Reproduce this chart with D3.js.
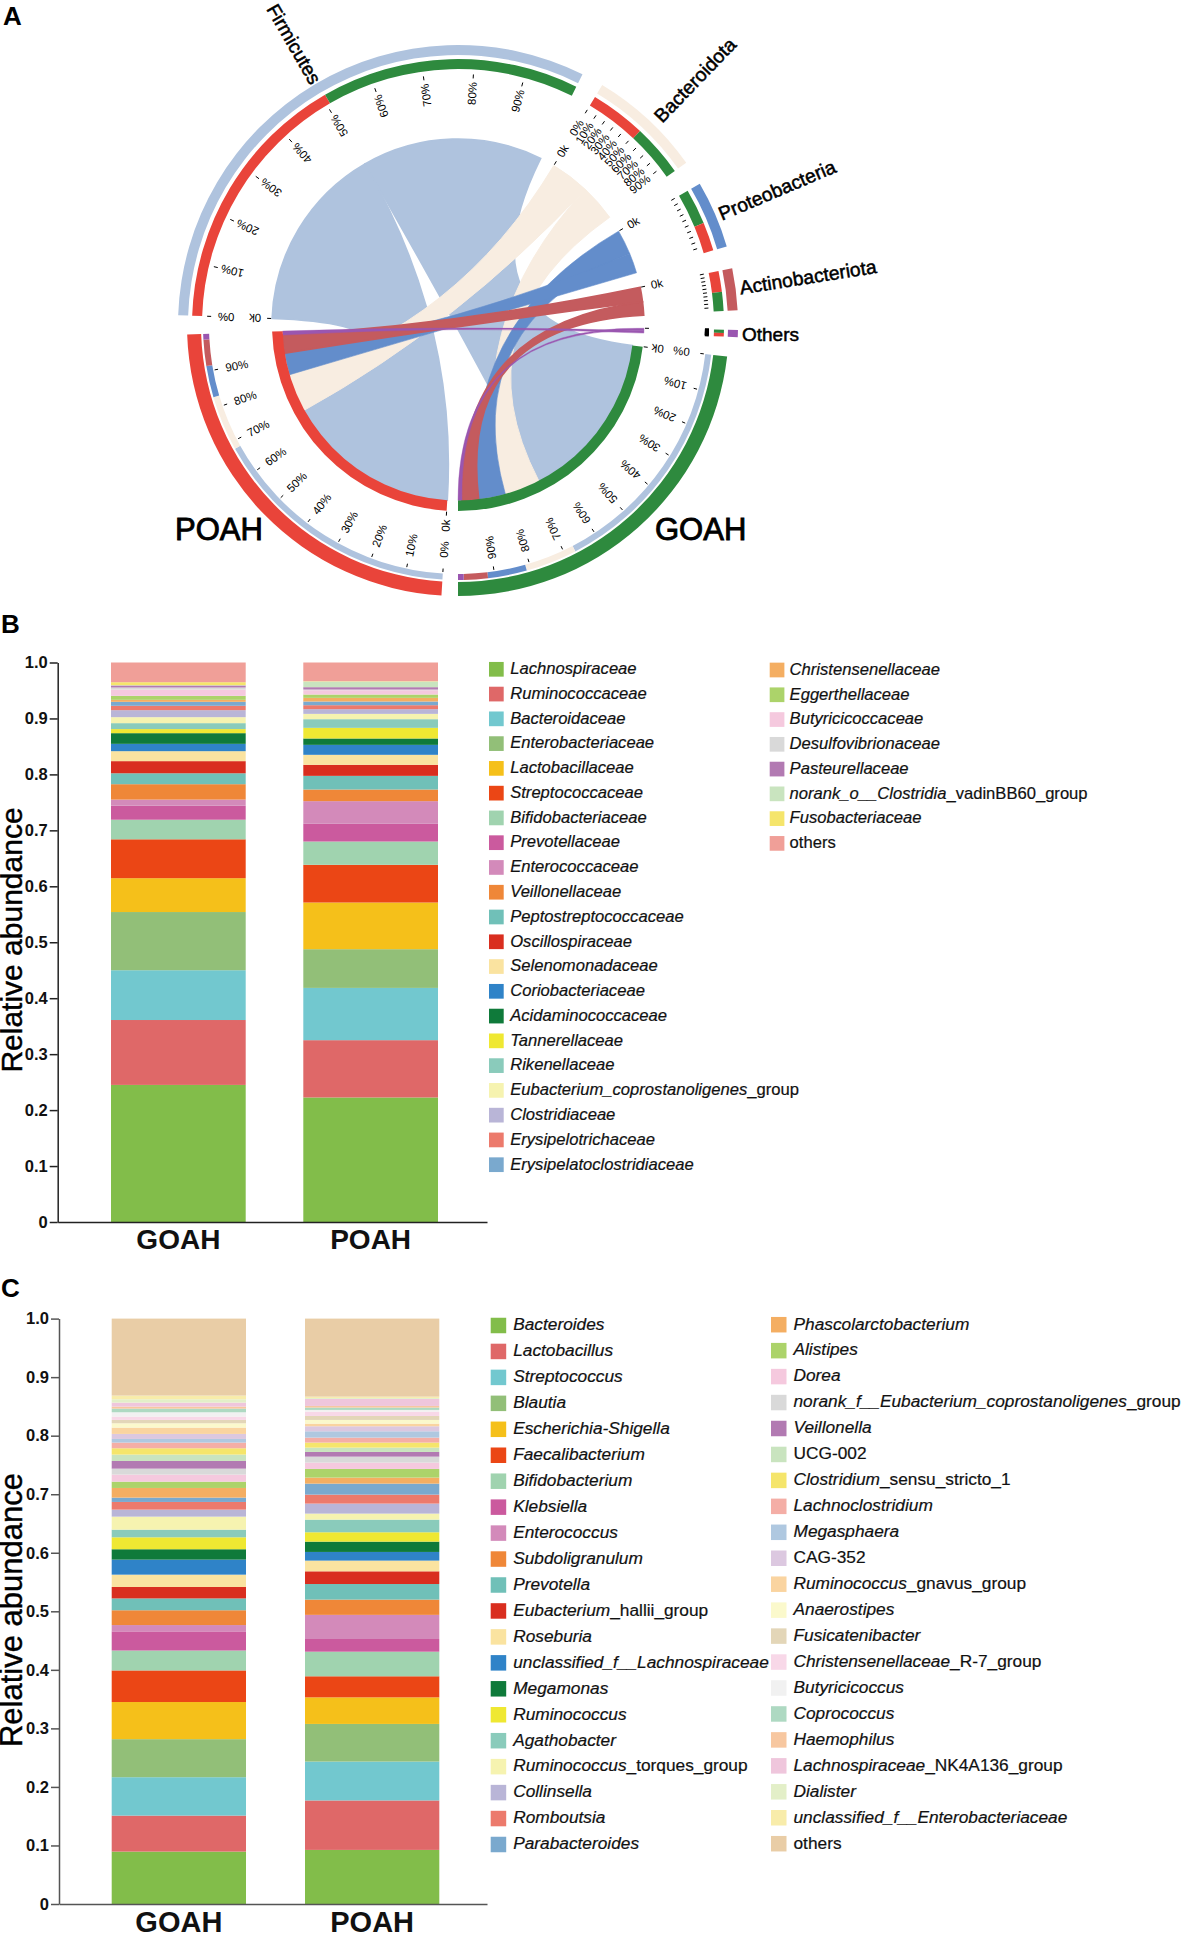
<!DOCTYPE html>
<html><head><meta charset="utf-8">
<script src="https://cdn.jsdelivr.net/npm/d3@7"></script>
<style>
html,body{margin:0;padding:0;background:#fff;overflow:hidden}
svg{display:block;font-family:"Liberation Sans",Arial,sans-serif}
</style></head><body><svg id="c" width="1181" height="1933" viewBox="0 0 1181 1933"></svg>
<script>
// ---------- Panel A data ----------
const phyla = ["Firmicutes","Bacteroidota","Proteobacteria","Actinobacteriota","Others"];
const phylaColors = ["#afc3de","#f8ede1","#638dcb","#c45b5e","#9a56b0"];
const goahFlow = [56.1,11.8,8.9,5.5,1.3];
const poahFlow = [57.7,12.6,7.2,6.0,1.3];
const phylaStart = [272,31,59.7,78.3,91];
const phylaEnd = [386.4,54.6,73.7,87,92.5];
const poahFirst = [true,true,false,true,false];
const percentTicks = [0,10,20,30,40,50,60,70,80,90];
const percentLabelled = [true,true,false,false,false];
// ---------- Panel B data ----------
const familyLabels = ["Lachnospiraceae","Ruminococcaceae","Bacteroidaceae","Enterobacteriaceae","Lactobacillaceae","Streptococcaceae","Bifidobacteriaceae","Prevotellaceae","Enterococcaceae","Veillonellaceae","Peptostreptococcaceae","Oscillospiraceae","Selenomonadaceae","Coriobacteriaceae","Acidaminococcaceae","Tannerellaceae","Rikenellaceae","Eubacterium_coprostanoligenes|_group","Clostridiaceae","Erysipelotrichaceae","Erysipelatoclostridiaceae","Christensenellaceae","Eggerthellaceae","Butyricicoccaceae","Desulfovibrionaceae","Pasteurellaceae","norank_o__Clostridia|_vadinBB60_group","Fusobacteriaceae","|others"];
const familyGOAH = [.245,.116,.089,.104,.0605,.0695,.035,.025,.011,.0275,.0195,.0217,.0178,.0131,.0191,.0073,.0106,.0107,.0125,.0078,.0071,.0036,.0071,.0113,.0036,.0036,.0006,.0053,.0352];
const familyPOAH = [.2226,.1024,.0934,.0692,.0834,.0674,.0416,.0317,.0405,.0208,.0244,.0197,.0179,.0178,.0114,.019,.0155,.0095,.0084,.0071,.0066,.0065,.006,.0077,.0012,.0042,.0101,.0006,.0334];
const familyColors = ["#82bd4a","#df6868","#72c8cf","#92bf78","#f5c01a","#eb4615","#a0d3af","#cb5a9e","#d38aba","#ef8738","#70c0b8","#d92e1f","#fae3a0","#2f83c8","#0f7a3a","#efe832","#8acbbb","#f6f3b0","#b9b5d7","#ec7a6c","#7aa9ce","#f4ae62","#acd36a","#f5c9de","#d9d9d9","#b27ab2","#c9e4bf","#f5e56b","#f09f98"];
// ---------- Panel C data ----------
const genusLabels = ["Bacteroides","Lactobacillus","Streptococcus","Blautia","Escherichia-Shigella","Faecalibacterium","Bifidobacterium","Klebsiella","Enterococcus","Subdoligranulum","Prevotella","Eubacterium|_hallii_group","Roseburia","unclassified_f__Lachnospiraceae","Megamonas","Ruminococcus","Agathobacter","Ruminococcus|_torques_group","Collinsella","Romboutsia","Parabacteroides","Phascolarctobacterium","Alistipes","Dorea","norank_f__Eubacterium_coprostanoligenes|_group","Veillonella","|UCG-002","Clostridium|_sensu_stricto_1","Lachnoclostridium","Megasphaera","|CAG-352","Ruminococcus|_gnavus_group","Anaerostipes","Fusicatenibacter","Christensenellaceae|_R-7_group","Butyricicoccus","Coprococcus","Haemophilus","Lachnospiraceae|_NK4A136_group","Dialister","unclassified_f__Enterobacteriaceae","|others"];
const genusGOAH = [.0895,.0615,.0656,.065,.0634,.054,.034,.0327,.0108,.0253,.0202,.0195,.0211,.0257,.0177,.0204,.0131,.0222,.012,.0131,.0074,.0165,.0108,.012,.0102,.0131,.0109,.0108,.0097,.0062,.0086,.0108,.0074,.0057,.0057,.0074,.0062,.0035,.0068,.0057,.0063,.1315];
const genusPOAH = [.0924,.0845,.0664,.0643,.0454,.036,.042,.0217,.0412,.0261,.0266,.0217,.0183,.0148,.0176,.016,.0216,.0103,.0171,.0153,.0188,.0103,.0148,.0108,.0102,.008,.0074,.0086,.0085,.0108,.0086,.0045,.0063,.0068,.0074,.0029,.004,.0028,.012,.0017,.0022,.1333];
const genusColors = ["#82bd4a","#df6868","#72c8cf","#92bf78","#f5c01a","#eb4615","#a0d3af","#cb5a9e","#d38aba","#ef8738","#70c0b8","#d92e1f","#fae3a0","#2f83c8","#0f7a3a","#efe832","#8acbbb","#f6f3b0","#b9b5d7","#ec7a6c","#7aa9ce","#f4ae62","#acd36a","#f5c9de","#d9d9d9","#b27ab2","#c9e4bf","#f5e56b","#f4aea6","#afc8e0","#dcc8e0","#fad4a0","#fbf9cc","#e3d6b8","#f8d8e8","#f1f1f1","#aed9c2","#f7c7a0","#efc6dc","#e3efc8","#f8ecaa","#e9cda6"];
const groups = ["GOAH","POAH"];
const yTicks = [0,.1,.2,.3,.4,.5,.6,.7,.8,.9,1];

const svg = d3.select("#c");
const rad = d => d*Math.PI/180;

// panel letters
[["A",3,25],["B",1,633],["C",1,1297]].forEach(([t,x,y])=>svg.append("text").attr("x",x).attr("y",y).attr("font-size",26).attr("font-weight","bold").text(t));

// ---------- Panel A ----------
const CX=458, CY=325, RC=186, RI=175.5;
const g = svg.append("g").attr("transform",`translate(${CX},${CY})`);
const arc = d3.arc();
const ribbon = d3.ribbon();
const GROUP = {
  GOAH:{flow:goahFlow,start:96.7,end:180,color:"#2e8a3e"},
  POAH:{flow:poahFlow,start:183.5,end:268,color:"#e9443a"}
};
function seg(r0,r1,a0,a1,color){
  g.append("path").attr("d",arc({innerRadius:r0,outerRadius:r1,startAngle:rad(a0),endAngle:rad(a1)})).attr("fill",color);
}
function tick(a,r0,r1,w){
  const s=Math.sin(rad(a)), c=-Math.cos(rad(a));
  g.append("line").attr("x1",s*r0).attr("y1",c*r0).attr("x2",s*r1).attr("y2",c*r1).attr("stroke","#000").attr("stroke-width",w||1);
}
function label(a,r,txt,rotate,size){
  const s=Math.sin(rad(a)), c=-Math.cos(rad(a));
  g.append("text").attr("transform",`translate(${s*r},${c*r}) rotate(${rotate})`)
    .attr("text-anchor","middle").attr("dy",".35em").attr("font-size",size).text(txt);
}
// group angle stacks
const stacks = {};
groups.forEach(name=>{
  const G=GROUP[name];
  const total=d3.sum(G.flow);
  const sc=d3.scaleLinear().domain([0,total]).range([G.start,G.end]);
  let acc=0;
  stacks[name]=G.flow.map(v=>{const a=[sc(acc),sc(acc+v)];acc+=v;return a;});
});
// species splits
const splits = phyla.map((p,i)=>{
  const pv=poahFlow[i], gv=goahFlow[i];
  const order=poahFirst[i]?["POAH","GOAH"]:["GOAH","POAH"];
  const vals=order.map(n=>n==="POAH"?pv:gv);
  const sc=d3.scaleLinear().domain([0,pv+gv]).range([phylaStart[i],phylaEnd[i]]);
  return {[order[0]]:[sc(0),sc(vals[0])],[order[1]]:[sc(vals[0]),sc(vals[0]+vals[1])],order};
});
// ribbons (painted per phylum)
const ribbonSeam = [1.6,1,.6,1.6,.4];
phyla.forEach((p,i)=>{
  groups.forEach(name=>{
    const s=stacks[name][i], t=splits[i][name];
    g.append("path").attr("fill",phylaColors[i]).attr("stroke",phylaColors[i]).attr("stroke-width",ribbonSeam[i]).attr("d",ribbon({
      source:{startAngle:rad(s[0]),endAngle:rad(s[1]),radius:RI},
      target:{startAngle:rad(t[0]),endAngle:rad(t[1]),radius:RC}
    }));
  });
});
// group rings
groups.forEach(name=>{
  const G=GROUP[name];
  seg(RI,RC,G.start,G.end,G.color);
  seg(257,271,G.start,G.end,G.color);
  stacks[name].forEach((a,i)=>seg(249,255,a[0],a[1],phylaColors[i]));
  const pct=d3.scaleLinear().domain([0,100]).range([G.start,G.end]);
  percentTicks.forEach(v=>{
    const a=pct(v);
    tick(a,244,247.5);
    label(a,225,v+"%",a+90,11.5);
  });
  tick(G.start,187,191);
  label(G.start,201,"0k",G.start+90,11.5);
});
// phylum rings
phyla.forEach((p,i)=>{
  seg(270,280,phylaStart[i],phylaEnd[i],phylaColors[i]);
  splits[i].order.forEach(n=>seg(256,266,splits[i][n][0],splits[i][n][1],GROUP[n].color));
  const pct=d3.scaleLinear().domain([0,100]).range([phylaStart[i],phylaEnd[i]]);
  percentTicks.forEach(v=>{
    const a=pct(v);
    tick(a,247,251,i===4?2.2:1);
    if(percentLabelled[i]) label(a,i===1?230:232,v+"%",a-90,11.5);
  });
  tick(phylaStart[i],187,191);
  if(i<4) label(phylaStart[i],203,"0k",phylaStart[i]-90,11.5);
});
// phylum names
const nameWeight = (s,w)=>s.attr("stroke","#000").attr("stroke-width",w||.5);
[["Firmicutes",-164,-281,60],["Bacteroidota",237,-245,-46],["Proteobacteria",319,-135,-23],["Actinobacteriota",350,-48,-9]].forEach(([t,x,y,r])=>{
  g.append("text").attr("transform",`translate(${x},${y}) rotate(${r})`).attr("text-anchor","middle").attr("dy",".35em")
   .attr("font-size",19.3).text(t).call(nameWeight);
});
g.append("text").attr("x",284).attr("y",16).attr("font-size",19).text("Others").call(nameWeight);
svg.append("text").attr("x",175).attr("y",540).attr("font-size",31).text("POAH").call(nameWeight,.9);
svg.append("text").attr("x",655).attr("y",540).attr("font-size",31).text("GOAH").call(nameWeight,.9);

// ---------- Panels B and C ----------
function stackedPanel(o){
  const panel=svg.append("g");
  const y=d3.scaleLinear().domain([0,1]).range([o.y0,o.y1]);
  const step=o.bar2-o.bar1;
  const width=o.axisEnd-o.axisX;
  const paddingInner=1-o.barW/step;
  const outerTotal=width/step-(2-paddingInner);
  const x=d3.scaleBand().domain(groups).range([o.axisX,o.axisEnd])
    .paddingInner(paddingInner).paddingOuter(outerTotal/2)
    .align((o.bar1-o.axisX)/(outerTotal*step));
  const stack=d3.stack().keys(d3.range(o.labels.length)).value((d,k)=>d[k]);
  const layers=stack([o.goah,o.poah]);
  layers.forEach((layer,k)=>{
    panel.append("g").attr("fill",o.colors[k]).selectAll("rect").data(layer).join("rect")
      .attr("x",(d,i)=>x(groups[i])).attr("width",x.bandwidth())
      .attr("y",d=>y(d[1])).attr("height",d=>Math.max(0,y(d[0])-y(d[1])));
  });
  const yAxis=panel.append("g").attr("transform",`translate(${o.axisX},0)`)
    .call(d3.axisLeft(y).tickValues(yTicks).tickFormat(d=>d===0?"0":d3.format(".1f")(d)).tickSize(8).tickSizeOuter(0).tickPadding(2));
  yAxis.selectAll("text").attr("font-size",16.5).attr("font-weight","bold").attr("font-family","Liberation Sans").attr("fill","#111");
  yAxis.selectAll("line,path").attr("stroke",o.axisColor).attr("stroke-width",1.5);
  const xAxis=panel.append("g").attr("transform",`translate(0,${o.y0})`)
    .call(d3.axisBottom(x).tickSize(0).tickSizeOuter(0).tickPadding(o.xPad));
  xAxis.selectAll("text").attr("font-size",o.xFont).attr("font-weight","bold").attr("font-family","Liberation Sans").attr("fill","#111");
  xAxis.selectAll("path").attr("stroke",o.axisColor).attr("stroke-width",1.5);
  panel.append("text").attr("transform",`translate(${o.titleX},${o.titleY}) rotate(-90)`).attr("text-anchor","middle")
    .attr("font-size",o.titleFont).attr("stroke","#000").attr("stroke-width",.4).text("Relative abundance");
  // legend
  o.labels.forEach((lab,i)=>{
    const inFirst=i<21;
    const row=inFirst?i:i-21;
    const sx=inFirst?o.leg1:o.leg2;
    const ly=(inFirst?o.legY1:o.legY2)+row*o.legStep;
    panel.append("rect").attr("x",sx).attr("y",ly-o.swatch/2).attr("width",o.swatch).attr("height",o.swatch).attr("fill",o.colors[i]);
    const parts=lab.split("|");
    const tx=panel.append("text").attr("x",sx+o.swatch+(inFirst?o.legGap:o.legGap2)).attr("y",ly+4.8).attr("font-size",o.legFont).attr("fill","#111")
      .attr("stroke","#111").attr("stroke-width",.2);
    tx.append("tspan").attr("font-style","italic").text(parts[0]);
    if(parts[1]) tx.append("tspan").text(parts[1]);
  });
}
stackedPanel({y0:1222,y1:662.5,axisX:57.7,axisEnd:487,bar1:111,bar2:303.3,barW:134.7,axisColor:"#222",
  goah:familyGOAH,poah:familyPOAH,labels:familyLabels,colors:familyColors,xPad:7,xFont:28,titleX:22.3,titleY:940,titleFont:30,
  leg1:489,leg2:769.7,legY1:669.3,legY2:670,legStep:24.77,swatch:14.7,legGap:6.5,legGap2:5.2,legFont:16.6});
stackedPanel({y0:1904,y1:1318.6,axisX:59,axisEnd:487,bar1:111.7,bar2:305,barW:134.3,axisColor:"#555",
  goah:genusGOAH,poah:genusPOAH,labels:genusLabels,colors:genusColors,xPad:7,xFont:29,titleX:22,titleY:1610,titleFont:31,
  leg1:490.7,leg2:771,legY1:1325.5,legY2:1324.7,legStep:25.95,swatch:15.5,legGap:7,legGap2:7,legFont:17.3});
</script></body></html>
